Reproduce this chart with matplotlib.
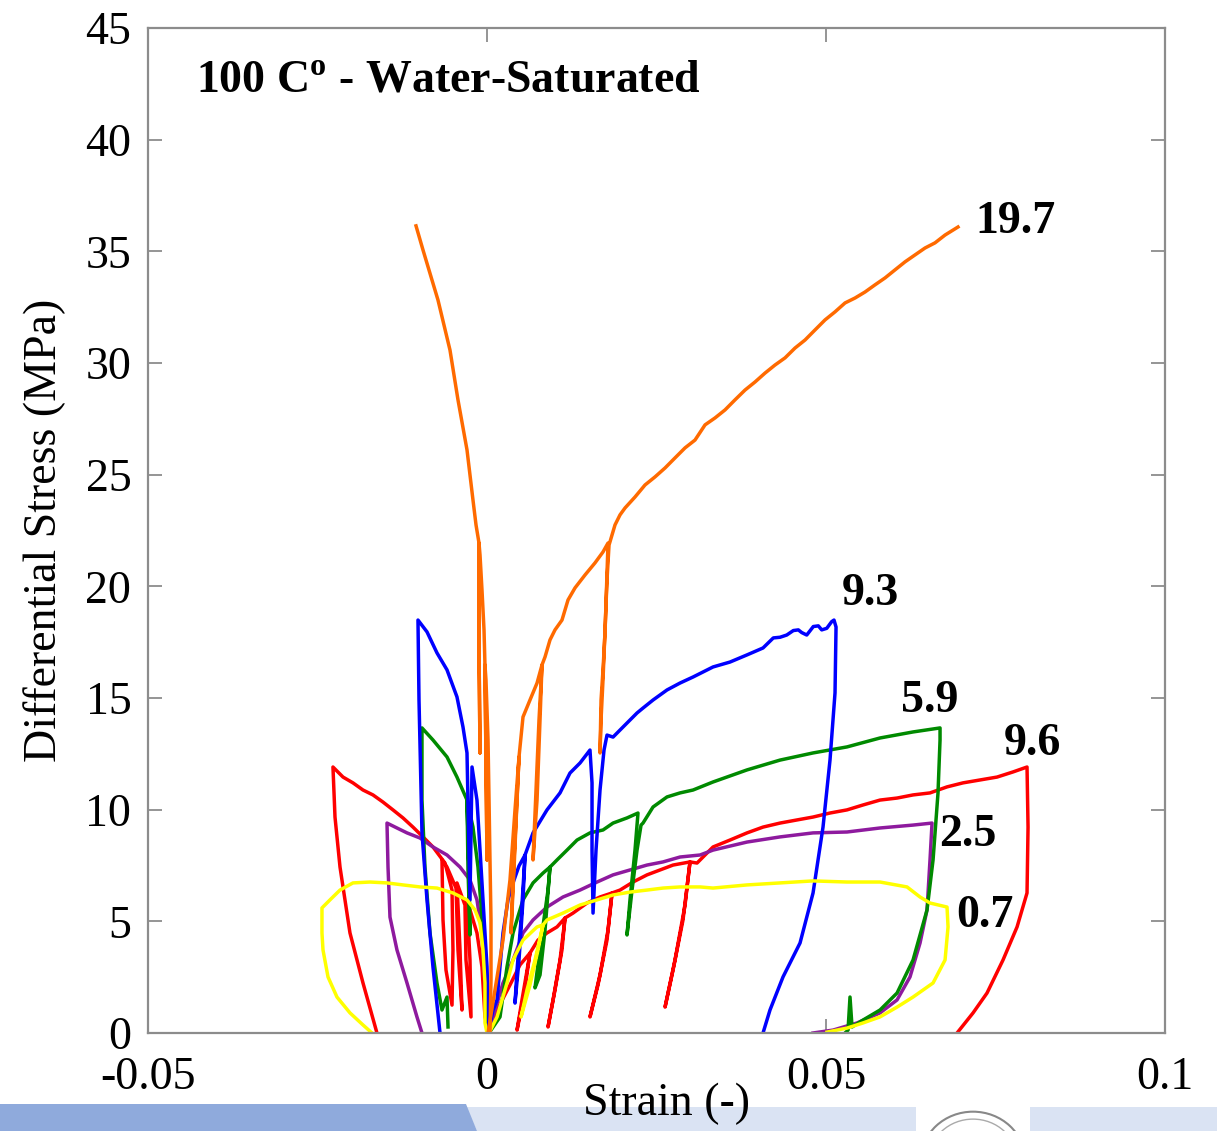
import matplotlib
matplotlib.use("Agg")
import matplotlib.pyplot as plt
from matplotlib.patches import Polygon, Rectangle, Circle

plt.rcParams['font.family'] = ['Liberation Serif', 'DejaVu Serif']
plt.rcParams['axes.unicode_minus'] = False
plt.rcParams['mathtext.fontset'] = 'custom'
plt.rcParams['mathtext.rm'] = 'Liberation Serif'
plt.rcParams['mathtext.bf'] = 'Liberation Serif:bold'

# ---------------- data (strain [-], differential stress [MPa]) ----------------
# 19.7 MPa test (orange)
orange_ax_eps = [0.00015, 0.00118, 0.00236, 0.00339, 0.00413, 0.00472, 0.00428, 0.00384, 0.00354, 0.00398,
                 0.00443, 0.00472, 0.00531, 0.00634, 0.00738, 0.00811, 0.00782, 0.00738, 0.00679, 0.00723,
                 0.00767, 0.00811, 0.00856, 0.00929, 0.01003, 0.01106, 0.01195, 0.01298, 0.01446, 0.01593,
                 0.01711, 0.01785, 0.01741, 0.01711, 0.01682, 0.01667, 0.01682, 0.01711, 0.01741, 0.01770,
                 0.01800, 0.01888, 0.01962, 0.02036, 0.02183, 0.02331, 0.02478, 0.02626, 0.02773, 0.02921,
                 0.03068, 0.03216, 0.03363, 0.03511, 0.03658, 0.03806, 0.03953, 0.04101, 0.04248, 0.04396,
                 0.04543, 0.04691, 0.04838, 0.04986, 0.05133, 0.05281, 0.05428, 0.05576, 0.05723, 0.05871,
                 0.06018, 0.06166, 0.06313, 0.06461, 0.06608, 0.06756, 0.06947]
orange_ax_sig = [0.0, 1.93, 4.16, 6.85, 9.99, 12.36, 9.54, 6.85, 4.48, 7.30,
                 10.43, 12.36, 14.15, 14.91, 15.67, 16.48, 14.02, 10.43, 7.75, 10.88,
                 14.02, 16.48, 16.84, 17.60, 18.05, 18.49, 19.39, 19.93, 20.51, 21.05,
                 21.54, 21.94, 17.96, 16.26, 14.91, 12.54, 14.02, 15.81, 18.05, 20.29,
                 21.85, 22.75, 23.20, 23.51, 24.00, 24.54, 24.90, 25.30, 25.75, 26.20,
                 26.55, 27.23, 27.54, 27.90, 28.35, 28.79, 29.15, 29.55, 29.91, 30.23,
                 30.67, 31.03, 31.48, 31.93, 32.29, 32.69, 32.91, 33.18, 33.50, 33.81,
                 34.17, 34.53, 34.84, 35.15, 35.38, 35.73, 36.09]
orange_rad_eps = [0.00044, 0.00059, 0.00059, 0.00044, 0.00030, 0.00015, -0.00015, -0.00030, -0.00015, 0.0,
                  -0.00015, -0.00030, -0.00044, -0.00074, -0.00103, -0.00118, -0.00118, -0.00103, -0.00118, -0.00118,
                  -0.00162, -0.00207, -0.00295, -0.00428, -0.00546, -0.00723, -0.00944, -0.01047]
orange_rad_sig = [0.0, 2.37, 5.06, 7.75, 10.43, 13.12, 15.81, 16.48, 12.22, 7.75,
                  12.22, 16.48, 18.05, 19.84, 21.40, 21.94, 17.24, 12.54, 17.24, 21.94,
                  22.75, 23.87, 26.11, 28.35, 30.58, 32.82, 35.06, 36.14]

# 9.3 MPa test (blue)
blue_ax_eps = [0.00015, 0.00089, 0.00148, 0.00236, 0.00310, 0.00384, 0.00472, 0.00561, 0.00502, 0.00443,
               0.00413, 0.00472, 0.00531, 0.00561, 0.00679, 0.00885, 0.01077, 0.01224, 0.01372, 0.01519,
               0.01549, 0.01549, 0.01564, 0.01608, 0.01667, 0.01726, 0.01770, 0.01859, 0.02006, 0.02213,
               0.02301, 0.02449, 0.02655, 0.02847, 0.03039, 0.03334, 0.03584, 0.03835, 0.04071, 0.04223,
               0.04322, 0.04421, 0.04518, 0.04592, 0.04642, 0.04716, 0.04813, 0.04887, 0.04937, 0.05011,
               0.05084, 0.05118, 0.05148, 0.05133, 0.05059, 0.04956, 0.04809, 0.04617, 0.04366, 0.04174,
               0.04071]
blue_ax_sig = [0.0, 1.03, 1.48, 4.48, 5.96, 6.72, 7.48, 7.97, 5.06, 2.82,
               1.34, 3.27, 5.96, 7.97, 8.96, 9.99, 10.75, 11.64, 12.09, 12.67,
               11.20, 8.19, 5.37, 8.19, 10.88, 12.67, 13.34, 13.25, 13.70, 14.33,
               14.55, 14.91, 15.36, 15.67, 15.94, 16.39, 16.61, 16.93, 17.24, 17.69,
               17.72, 17.82, 18.02, 18.05, 17.93, 17.82, 18.20, 18.23, 18.05, 18.12,
               18.42, 18.49, 18.18, 15.23, 12.22, 9.22, 6.27, 4.03, 2.51, 1.03,
               0.0]
blue_rad_eps = [0.00030, 0.0, -0.00059, -0.00103, -0.00148, -0.00221, -0.00251, -0.00295, -0.00354, -0.00443,
                -0.00590, -0.00738, -0.00885, -0.01018, -0.01003, -0.00959, -0.00885, -0.00797, -0.00693]
blue_rad_sig = [0.0, 2.96, 5.96, 8.19, 10.43, 11.91, 5.96, 12.54, 13.70, 15.05,
                16.26, 17.02, 17.96, 18.49, 14.91, 8.96, 5.96, 2.96, 0.0]

# 5.9 MPa test (green)
green_ax_eps = [0.00030, 0.00192, 0.00295, 0.00384, 0.00531, 0.00679, 0.00826, 0.00929, 0.00856, 0.00782,
                0.00708, 0.00797, 0.00900, 0.00929, 0.01033, 0.01180, 0.01328, 0.01519, 0.01711, 0.01859,
                0.02065, 0.02227, 0.02183, 0.02109, 0.02065, 0.02139, 0.02213, 0.02272, 0.02301, 0.02449,
                0.02655, 0.02847, 0.03039, 0.03334, 0.03835, 0.04322, 0.04809, 0.05310, 0.05797, 0.06284,
                0.06682, 0.06682, 0.06652, 0.06579, 0.06490, 0.06284, 0.06048, 0.05797, 0.05546, 0.05384,
                0.05354, 0.05325, 0.05281]
green_ax_sig = [0.0, 0.72, 2.96, 4.48, 5.96, 6.72, 7.16, 7.43, 4.61, 2.60,
                2.02, 4.16, 6.40, 7.43, 7.75, 8.19, 8.64, 8.96, 9.09, 9.40,
                9.63, 9.85, 8.19, 5.96, 4.39, 6.40, 8.19, 9.31, 9.40, 10.12,
                10.57, 10.75, 10.88, 11.24, 11.78, 12.22, 12.54, 12.81, 13.21, 13.48,
                13.66, 13.12, 10.75, 7.75, 5.51, 3.27, 1.79, 1.03, 0.58, 0.27,
                1.61, 0.13, 0.0]
green_rad_eps = [0.0, -0.00030, -0.00074, -0.00133, -0.00207, -0.00295, -0.00266, -0.00251, -0.00280, -0.00295,
                 -0.00443, -0.00590, -0.00797, -0.00959, -0.00959, -0.00915, -0.00841, -0.00738, -0.00664, -0.00590,
                 -0.00575]
green_rad_sig = [0.0, 2.96, 5.19, 7.43, 9.22, 10.43, 7.30, 4.39, 7.30, 10.43,
                 11.46, 12.36, 13.12, 13.66, 10.43, 7.43, 4.48, 2.24, 1.03, 1.61,
                 0.27]

# 9.6 MPa test (red)
red_ax_eps = [0.00015, 0.00148, 0.00339, 0.00487, 0.00634, 0.00516, 0.00443, 0.00546, 0.00634, 0.00752,
              0.00885, 0.01033, 0.01151, 0.01077, 0.00974, 0.00900, 0.01003, 0.01106, 0.01151, 0.01269,
              0.01475, 0.01667, 0.01844, 0.01770, 0.01637, 0.01519, 0.01667, 0.01785, 0.01844, 0.01962,
              0.02154, 0.02360, 0.02552, 0.02744, 0.02994, 0.02891, 0.02744, 0.02626, 0.02773, 0.02921,
              0.02994, 0.03098, 0.03334, 0.03584, 0.03835, 0.04071, 0.04322, 0.04573, 0.04809, 0.05059,
              0.05310, 0.05546, 0.05797, 0.06048, 0.06284, 0.06534, 0.06785, 0.07021, 0.07272, 0.07523,
              0.07759, 0.07965, 0.07980, 0.07965, 0.07818, 0.07611, 0.07375, 0.07169, 0.06933]
red_ax_sig = [0.0, 1.03, 2.15, 3.05, 3.58, 1.48, 0.13, 1.70, 3.58, 4.16,
              4.48, 4.75, 5.15, 3.27, 1.48, 0.27, 1.93, 3.72, 5.15, 5.37,
              5.82, 6.09, 6.27, 4.16, 2.15, 0.72, 2.60, 4.61, 6.27, 6.40,
              6.76, 7.08, 7.30, 7.52, 7.66, 5.06, 2.82, 1.16, 3.27, 5.73,
              7.66, 7.61, 8.33, 8.64, 8.96, 9.22, 9.40, 9.54, 9.67, 9.85,
              9.99, 10.21, 10.43, 10.52, 10.66, 10.75, 11.02, 11.20, 11.33, 11.46,
              11.69, 11.91, 9.22, 6.27, 4.75, 3.27, 1.79, 0.90, 0.0]
red_rad_eps = [0.00030, -0.00030, -0.00074, -0.00148, -0.00295, -0.00251, -0.00236, -0.00310, -0.00325, -0.00443,
               -0.00398, -0.00369, -0.00428, -0.00457, -0.00590, -0.00664, -0.00649, -0.00605, -0.00516, -0.00502,
               -0.00516, -0.00620, -0.00797, -0.00944, -0.01092, -0.01239, -0.01387, -0.01534, -0.01682, -0.01829,
               -0.01977, -0.02124, -0.02272, -0.02242, -0.02168, -0.02021, -0.01829, -0.01623]
red_rad_sig = [0.0, 0.72, 2.96, 4.48, 5.96, 3.27, 0.72, 3.27, 5.73, 6.72,
               3.72, 1.03, 3.72, 6.49, 7.43, 7.75, 5.06, 2.82, 1.25, 3.72,
               6.40, 7.61, 8.33, 8.78, 9.22, 9.63, 9.99, 10.34, 10.66, 10.88,
               11.20, 11.46, 11.91, 9.67, 7.43, 4.48, 2.24, 0.0]

# 2.5 MPa test (purple)
purple_ax_eps = [0.00015, 0.00089, 0.00236, 0.00384, 0.00531, 0.00679, 0.00885, 0.01121, 0.01372, 0.01623,
                 0.01859, 0.02109, 0.02360, 0.02596, 0.02847, 0.03142, 0.03334, 0.03835, 0.04322, 0.04809,
                 0.05310, 0.05797, 0.06284, 0.06564, 0.06534, 0.06490, 0.06387, 0.06239, 0.06048, 0.05797,
                 0.05458, 0.05104, 0.04809]
purple_ax_sig = [0.0, 0.72, 2.24, 3.27, 4.48, 5.06, 5.64, 6.09, 6.40, 6.76,
                 7.08, 7.30, 7.52, 7.66, 7.88, 7.97, 8.19, 8.55, 8.78, 8.96,
                 9.00, 9.18, 9.31, 9.40, 7.75, 5.51, 4.03, 2.51, 1.48, 0.90,
                 0.45, 0.13, 0.0]
purple_rad_eps = [0.00015, 0.0, -0.00030, -0.00074, -0.00148, -0.00251, -0.00398, -0.00590, -0.00797, -0.00988,
                  -0.01180, -0.01328, -0.01475, -0.01460, -0.01431, -0.01328, -0.01180, -0.01033, -0.00959]
purple_rad_sig = [0.0, 1.48, 2.24, 4.48, 5.96, 6.85, 7.43, 7.97, 8.33, 8.73,
                  8.96, 9.18, 9.40, 7.43, 5.19, 3.72, 2.24, 0.72, 0.0]

# 0.7 MPa test (yellow)
yellow_ax_eps = [0.00030, 0.00148, 0.00295, 0.00384, 0.00531, 0.00738, 0.00826, 0.00708, 0.00590, 0.00502,
                 0.00634, 0.00752, 0.00826, 0.00885, 0.01121, 0.01372, 0.01623, 0.01859, 0.02109, 0.02360,
                 0.02596, 0.02847, 0.03142, 0.03334, 0.03835, 0.04322, 0.04809, 0.05310, 0.05797, 0.06195,
                 0.06387, 0.06534, 0.06785, 0.06800, 0.06756, 0.06579, 0.06284, 0.06048, 0.05797, 0.05546,
                 0.05310, 0.05015]
yellow_ax_sig = [0.0, 0.72, 2.24, 3.27, 4.16, 4.75, 4.84, 3.27, 1.93, 0.72,
                 2.15, 3.72, 4.84, 5.06, 5.37, 5.73, 5.96, 6.18, 6.31, 6.40,
                 6.49, 6.54, 6.54, 6.49, 6.63, 6.72, 6.81, 6.76, 6.76, 6.54,
                 6.09, 5.82, 5.64, 4.75, 3.27, 2.24, 1.61, 1.16, 0.72, 0.45,
                 0.22, 0.04]
yellow_rad_eps = [0.0, -0.00030, -0.00030, -0.00059, -0.00103, -0.00177, -0.00295, -0.00502, -0.00738, -0.00988,
                  -0.01239, -0.01475, -0.01726, -0.01977, -0.02168, -0.02316, -0.02434, -0.02434, -0.02419, -0.02345,
                  -0.02213, -0.02021, -0.01829, -0.01696]
yellow_rad_sig = [0.0, 0.45, 2.24, 3.72, 4.93, 5.51, 5.96, 6.27, 6.49, 6.54,
                  6.63, 6.72, 6.76, 6.72, 6.40, 5.96, 5.60, 4.48, 3.72, 2.51,
                  1.61, 0.90, 0.36, 0.0]

labels = ['19.7', '9.3', '5.9', '9.6', '2.5', '0.7']
x_ticks = [-0.05, 0, 0.05, 0.1]
x_tick_labels = ['-0.05', '0', '0.05', '0.1']
y_ticks = [0, 5, 10, 15, 20, 25, 30, 35, 40, 45]

# ---------------- figure ----------------
W, H = 1217, 1131
fig = plt.figure(figsize=(W / 100, H / 100), dpi=100)
ax = fig.add_axes([148 / W, 1 - 1033 / H, 1017 / W, 1005 / H])

lw = 2.5
c_or, c_bl, c_gr, c_rd, c_pu, c_ye = '#FF6A00', '#0000FF', '#008A00', '#FF0000', '#8E1A9E', '#FFFF00'
series = [
    (red_ax_eps, red_ax_sig, red_rad_eps, red_rad_sig, c_rd),
    (purple_ax_eps, purple_ax_sig, purple_rad_eps, purple_rad_sig, c_pu),
    (green_ax_eps, green_ax_sig, green_rad_eps, green_rad_sig, c_gr),
    (blue_ax_eps, blue_ax_sig, blue_rad_eps, blue_rad_sig, c_bl),
    (yellow_ax_eps, yellow_ax_sig, yellow_rad_eps, yellow_rad_sig, c_ye),
    (orange_ax_eps, orange_ax_sig, orange_rad_eps, orange_rad_sig, c_or),
]
for ex, sx, er, sr, c in series:
    ax.plot(ex, sx, color=c, lw=lw, solid_joinstyle='round')
    ax.plot(er, sr, color=c, lw=lw, solid_joinstyle='round')

ax.set_xlim(-0.05, 0.1)
ax.set_ylim(0, 45)
ax.set_xticks(x_ticks)
ax.set_xticklabels(x_tick_labels)
ax.set_yticks(y_ticks)
for s in ax.spines.values():
    s.set_color('#8c8c8c')
    s.set_linewidth(1.6)
ax.tick_params(direction='in', length=10, width=1.3, color='#8c8c8c',
               top=True, right=True, labelsize=33)
ax.tick_params(axis='x', pad=17)
ax.tick_params(axis='y', pad=12)
ax.set_xlabel('Strain (-)', fontsize=33)
ax.xaxis.set_label_coords(0.510, -0.049)
ax.set_ylabel('Differential Stress (MPa)', fontsize=33, labelpad=14)

ax.text(0.047, 0.947, r'100 C$^{\mathbf{o}}$ - Water-Saturated', transform=ax.transAxes,
        fontsize=33, fontweight='bold', va='center', ha='left')

# end-of-curve labels (placed next to each curve end)
lab_pos = [(0.0779, 36.3), (0.0566, 19.65), (0.0653, 14.87), (0.0804, 12.94), (0.0709, 8.87), (0.0735, 5.24)]
for t, (lx, ly) in zip(labels, lab_pos):
    ax.text(lx, ly, t, fontsize=33, fontweight='bold', ha='center', va='center')

# slide footer decoration
fig.add_artist(Polygon([(0, 1 - 1104 / H), (466 / W, 1 - 1104 / H), (477 / W, 0), (0, 0)],
                       closed=True, transform=fig.transFigure, facecolor='#8FAADC', edgecolor='none', zorder=-5))
fig.add_artist(Polygon([(466 / W, 1 - 1107 / H), (1, 1 - 1107 / H), (1, 0), (477 / W, 0)],
                       closed=True, transform=fig.transFigure, facecolor='#DAE3F3', edgecolor='none', zorder=-6))
fig.add_artist(Rectangle((916 / W, 0), 114 / W, 26 / H, transform=fig.transFigure,
                         facecolor='white', edgecolor='none', zorder=-4))
fig.add_artist(Circle((0.5 * (916 + 1030) / W, 1 - 1160 / H), 52 / W, transform=fig.transFigure,
                      facecolor='none', edgecolor='#888888', lw=1.5, zorder=-3))
fig.add_artist(Circle((0.5 * (916 + 1030) / W, 1 - 1160 / H), 44 / W, transform=fig.transFigure,
                      facecolor='none', edgecolor='#aaaaaa', lw=1.0, zorder=-3))

fig.savefig('out.png', dpi=100)
